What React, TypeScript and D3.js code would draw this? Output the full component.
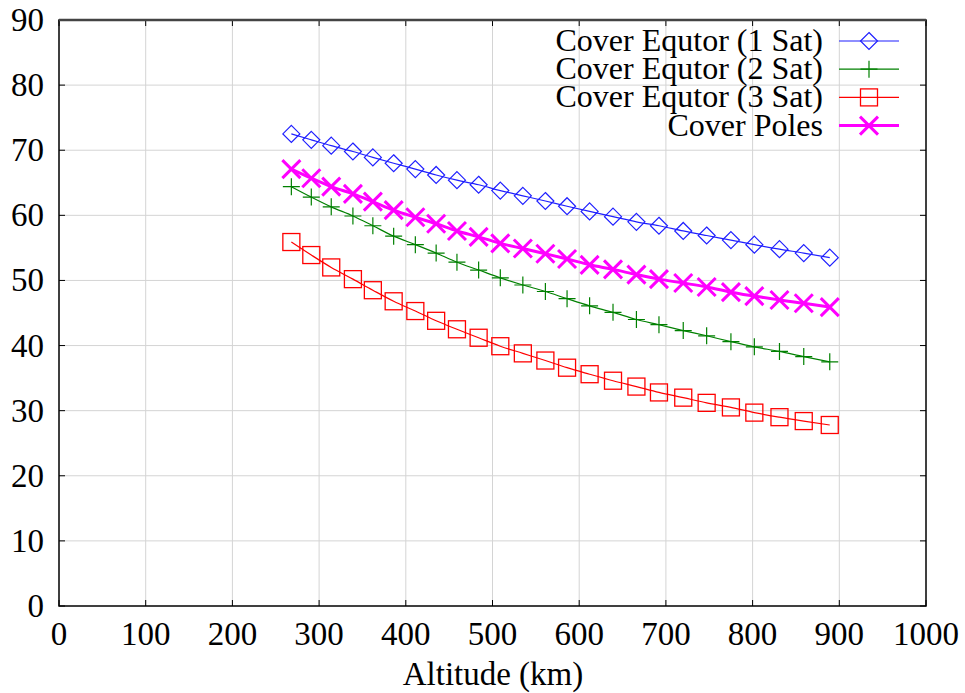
import React from 'react';
import * as d3 from 'd3';

// altitudes (km)
const altitudes = [268, 291, 314, 339, 362, 386, 411, 435, 459, 484, 509, 535, 561,
  586, 612, 639, 666, 692, 720, 747, 775, 802, 831, 859, 889];

const equator1 = [72.5, 71.6, 70.7, 69.8, 68.9, 68.0, 67.1, 66.2, 65.4, 64.7, 63.8, 63.0, 62.2,
  61.4, 60.6, 59.8, 59.0, 58.4, 57.6, 56.9, 56.2, 55.5, 54.8, 54.2, 53.5];
const equator2 = [64.4, 62.8, 61.3, 59.9, 58.4, 56.8, 55.5, 54.2, 52.8, 51.6, 50.4, 49.3, 48.3,
  47.2, 46.1, 45.1, 44.0, 43.2, 42.3, 41.5, 40.6, 39.8, 39.1, 38.3, 37.5];
const equator3 = [55.9, 53.9, 52.0, 50.2, 48.5, 46.8, 45.3, 43.8, 42.5, 41.2, 39.9, 38.8, 37.7,
  36.6, 35.6, 34.6, 33.7, 32.8, 32.0, 31.2, 30.5, 29.7, 29.0, 28.4, 27.8];
const poles = [67.1, 65.7, 64.4, 63.3, 62.1, 60.8, 59.7, 58.7, 57.6, 56.7, 55.7, 54.9, 54.1,
  53.3, 52.4, 51.7, 50.9, 50.2, 49.6, 49.0, 48.2, 47.6, 47.0, 46.5, 45.9];

const seriesNames = ['Cover Equtor (1 Sat)', 'Cover Equtor (2 Sat)', 'Cover Equtor (3 Sat)', 'Cover Poles'];
const xTicks = [0, 100, 200, 300, 400, 500, 600, 700, 800, 900, 1000];
const yTicks = [0, 10, 20, 30, 40, 50, 60, 70, 80, 90];

const FONT = 'Liberation Serif';
const fontStyle = { fontFamily: "'Liberation Serif', Tinos, 'Times New Roman', serif" };
const W = 965, H = 693;
const m = { left: 59, right: 39, top: 20, bottom: 87 };
const iw = W - m.left - m.right;
const ih = H - m.top - m.bottom;

const series = [
  { name: seriesNames[0], values: equator1, color: '#1f1fff', kind: 'diamond', lw: 1.2 },
  { name: seriesNames[1], values: equator2, color: '#008000', kind: 'plus', lw: 1.2 },
  { name: seriesNames[2], values: equator3, color: '#ff0000', kind: 'square', lw: 1.2 },
  { name: seriesNames[3], values: poles, color: '#ff00ff', kind: 'x', lw: 3 },
];

const Marker = ({ kind, color, cx, cy }: { kind: string; color: string; cx: number; cy: number }) => {
  if (kind === 'diamond') {
    const r = 8.5;
    return <path d={`M${cx},${cy - r}L${cx + r},${cy}L${cx},${cy + r}L${cx - r},${cy}Z`}
      fill="none" stroke={color} strokeWidth={1.2} />;
  }
  if (kind === 'plus') {
    const r = 8.5;
    return <path d={`M${cx - r},${cy}L${cx + r},${cy}M${cx},${cy - r}L${cx},${cy + r}`}
      fill="none" stroke={color} strokeWidth={1.2} />;
  }
  if (kind === 'square') {
    const r = 8.5;
    return <rect x={cx - r} y={cy - r} width={2 * r} height={2 * r}
      fill="none" stroke={color} strokeWidth={1.3} />;
  }
  const r = 9;
  return <path d={`M${cx - r},${cy - r}L${cx + r},${cy + r}M${cx - r},${cy + r}L${cx + r},${cy - r}`}
    fill="none" stroke={color} strokeWidth={3} />;
};

const App = () => {
  const x = d3.scaleLinear().domain([0, 1000]).range([0, iw]);
  const y = d3.scaleLinear().domain([0, 90]).range([ih, 0]);

  const line = d3.line<number>()
    .x((_, i) => x(altitudes[i]))
    .y(d => y(d))
    .curve(d3.curveMonotoneX);

  const tl = 6;

  return (
    <svg width={W} height={H} fontFamily={FONT}
      style={{ position: 'absolute', left: 0, top: 0, ...fontStyle }}>
      <rect width={W} height={H} fill="#fff" />
      <g transform={`translate(${m.left},${m.top})`}>
        {/* grid */}
        {xTicks.slice(1, -1).map(t => (
          <line key={'gx' + t} x1={x(t)} x2={x(t)} y1={0} y2={ih} stroke="#d4d4d4" strokeWidth={1} />
        ))}
        {yTicks.slice(1, -1).map(t => (
          <line key={'gy' + t} y1={y(t)} y2={y(t)} x1={0} x2={iw} stroke="#d4d4d4" strokeWidth={1} />
        ))}

        {/* inward ticks */}
        <g stroke="#000" strokeWidth={1}>
          {xTicks.map(t => (
            <g key={'tx' + t}>
              <line x1={x(t)} x2={x(t)} y1={ih} y2={ih - tl} />
              <line x1={x(t)} x2={x(t)} y1={0} y2={tl} />
            </g>
          ))}
          {yTicks.map(t => (
            <g key={'ty' + t}>
              <line y1={y(t)} y2={y(t)} x1={0} x2={tl} />
              <line y1={y(t)} y2={y(t)} x1={iw} x2={iw - tl} />
            </g>
          ))}
        </g>

        {/* frame */}
        <rect width={iw} height={ih} fill="none" stroke="#000" strokeWidth={1.5} />
        <line x1={0} x2={iw} y1={0} y2={0} stroke="#444" strokeWidth={2.5} />

        {/* tick labels */}
        {xTicks.map(t => (
          <text key={'lx' + t} x={x(t)} y={ih + 39} textAnchor="middle"
            fontFamily={FONT} style={fontStyle} fontSize={33}>{t}</text>
        ))}
        {yTicks.map(t => (
          <text key={'ly' + t} x={-15} y={y(t) + 11} textAnchor="end"
            fontFamily={FONT} style={fontStyle} fontSize={33}>{t}</text>
        ))}

        {/* series */}
        {series.map(s => (
          <g key={s.name}>
            <path d={line(s.values) || ''} fill="none" stroke={s.color} strokeWidth={s.lw} />
            {s.values.map((v, i) => (
              <Marker key={i} kind={s.kind} color={s.color} cx={x(altitudes[i])} cy={y(v)} />
            ))}
          </g>
        ))}
      </g>

      <text x={493} y={685} textAnchor="middle" fontFamily={FONT} style={fontStyle}
        fontSize={33}>Altitude (km)</text>

      {/* legend */}
      {series.map((s, i) => {
        const ly = 41 + i * 28.2;
        return (
          <g key={'leg' + i}>
            <text x={823} y={ly + 10} textAnchor="end" fontFamily={FONT} style={fontStyle}
              fontSize={32}>{s.name}</text>
            <line x1={839} x2={899} y1={ly} y2={ly} stroke={s.color} strokeWidth={s.lw} />
            <Marker kind={s.kind} color={s.color} cx={869} cy={ly} />
          </g>
        );
      })}
    </svg>
  );
};

export default App;
